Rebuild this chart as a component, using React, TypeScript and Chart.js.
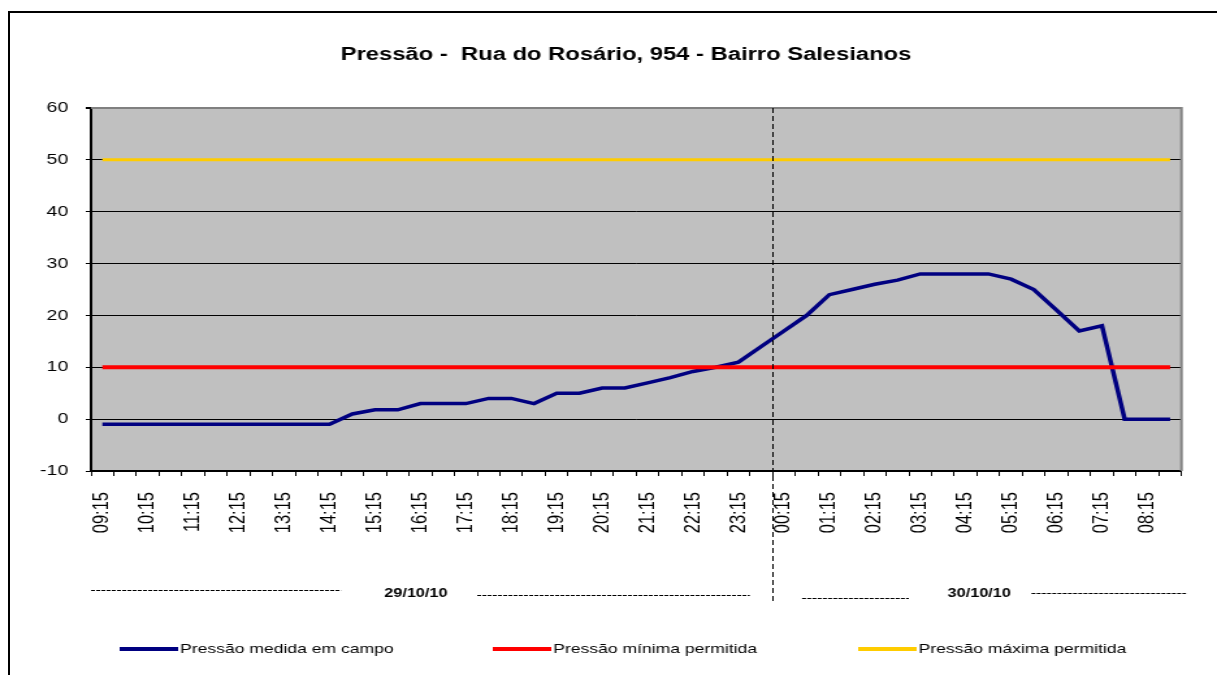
import React, { useEffect, useRef } from 'react';
import { Chart, registerables } from 'chart.js';

Chart.register(...registerables);

const chartTitle = 'Pressão -  Rua do Rosário, 954 - Bairro Salesianos';

const timeLabels = [
  '09:15', '09:45', '10:15', '10:45', '11:15', '11:45', '12:15', '12:45',
  '13:15', '13:45', '14:15', '14:45', '15:15', '15:45', '16:15', '16:45',
  '17:15', '17:45', '18:15', '18:45', '19:15', '19:45', '20:15', '20:45',
  '21:15', '21:45', '22:15', '22:45', '23:15', '23:45', '00:15', '00:45',
  '01:15', '01:45', '02:15', '02:45', '03:15', '03:45', '04:15', '04:45',
  '05:15', '05:45', '06:15', '06:45', '07:15', '07:45', '08:15', '08:45',
];

const measuredPressure = [
  -1, -1, -1, -1, -1, -1, -1, -1, -1, -1, -1, 1,
  1.8, 1.8, 3, 3, 3, 4, 4, 3, 5, 5, 6, 6,
  7, 8, 9.2, 10, 11, 14, 17, 20, 24, 25, 26, 26.8,
  28, 28, 28, 28, 27, 25, 21, 17, 18, 0, 0, 0,
];

const minPressure = [
  10, 10, 10, 10, 10, 10, 10, 10, 10, 10, 10, 10,
  10, 10, 10, 10, 10, 10, 10, 10, 10, 10, 10, 10,
  10, 10, 10, 10, 10, 10, 10, 10, 10, 10, 10, 10,
  10, 10, 10, 10, 10, 10, 10, 10, 10, 10, 10, 10,
];

const maxPressure = [
  50, 50, 50, 50, 50, 50, 50, 50, 50, 50, 50, 50,
  50, 50, 50, 50, 50, 50, 50, 50, 50, 50, 50, 50,
  50, 50, 50, 50, 50, 50, 50, 50, 50, 50, 50, 50,
  50, 50, 50, 50, 50, 50, 50, 50, 50, 50, 50, 50,
];

const seriesNames = [
  'Pressão medida em campo',
  'Pressão mínima permitida',
  'Pressão máxima permitida',
];

const seriesColors = ['#000080', '#FF0000', '#FFCC00'];

const dateLabels = ['29/10/10', '30/10/10'];

const FONT = "'Liberation Sans', Arial, sans-serif";

// layout constants (internal canvas px; canvas is stretched horizontally)
const TITLE_X = 481.5;
const TITLE_Y = 55;
const LEGEND_Y = 649;
const LEGEND_STARTS = [92, 379, 660];
const LEGEND_SWATCH = 45;

const plotBackground = {
  id: 'plotBackground',
  beforeDraw(chart: any) {
    const { ctx, chartArea } = chart;
    ctx.save();
    ctx.fillStyle = '#C0C0C0';
    ctx.fillRect(chartArea.left, chartArea.top, chartArea.right - chartArea.left, chartArea.bottom - chartArea.top);
    ctx.restore();
  },
  beforeDatasetsDraw(chart: any) {
    const { ctx, chartArea } = chart;
    ctx.save();
    ctx.strokeStyle = '#808080';
    ctx.lineWidth = 2;
    ctx.beginPath();
    ctx.moveTo(chartArea.left, chartArea.top);
    ctx.lineTo(chartArea.right, chartArea.top);
    ctx.lineTo(chartArea.right, chartArea.bottom);
    ctx.stroke();
    ctx.restore();
  },
};

const decorations = {
  id: 'decorations',
  afterDraw(chart: any) {
    const { ctx, chartArea } = chart;
    const xs = chart.scales.x;
    const px = (v: number) => xs.getPixelForValue(v);
    ctx.save();

    // title
    ctx.fillStyle = '#000';
    ctx.font = `bold 18.3px ${FONT}`;
    ctx.textAlign = 'center';
    ctx.textBaseline = 'middle';
    ctx.fillText(chartTitle, TITLE_X, TITLE_Y);

    // midnight divider
    ctx.strokeStyle = '#000';
    ctx.lineWidth = 1;
    ctx.setLineDash([5, 3]);
    ctx.beginPath();
    const mid = Math.round(px(29.5)) + 0.5;
    ctx.moveTo(mid, chartArea.top);
    ctx.lineTo(mid, 601);
    ctx.stroke();

    // dashed segments in date row
    ctx.setLineDash([3, 1]);
    const segs: [number, number, number][] = [
      [-0.5, 10.5, 590.5],
      [16.5, 28.5, 595.5],
      [30.8, 35.5, 598.5],
      [40.9, 47.7, 593.5],
    ];
    segs.forEach(([a, b, y]) => {
      ctx.beginPath();
      ctx.moveTo(px(a), y);
      ctx.lineTo(px(b), y);
      ctx.stroke();
    });
    ctx.setLineDash([]);
    ctx.font = `bold 12.5px ${FONT}`;
    ctx.fillText(dateLabels[0], px(13.8), 594);
    ctx.fillText(dateLabels[1], px(38.6), 594);

    // legend
    ctx.font = `13.5px ${FONT}`;
    ctx.textAlign = 'left';
    chart.data.datasets.forEach((ds: any, i: number) => {
      const x0 = LEGEND_STARTS[i];
      ctx.fillStyle = ds.borderColor;
      ctx.fillRect(x0, LEGEND_Y - 2, LEGEND_SWATCH, 4);
      ctx.fillStyle = '#000';
      ctx.fillText(ds.label, x0 + LEGEND_SWATCH + 1.5, LEGEND_Y);
    });

    ctx.restore();
  },
};

export default function App() {
  const ref = useRef<HTMLCanvasElement>(null);

  useEffect(() => {
    const canvas = ref.current;
    if (!canvas) return;
    Chart.defaults.font.family = FONT;
    const chart = new Chart(canvas, {
      type: 'line',
      data: {
        labels: timeLabels,
        datasets: [
          {
            label: seriesNames[0],
            data: measuredPressure,
            borderColor: seriesColors[0],
            backgroundColor: seriesColors[0],
            borderWidth: 3.5,
            pointRadius: 0,
            tension: 0,
            order: 3,
          },
          {
            label: seriesNames[1],
            data: minPressure,
            borderColor: seriesColors[1],
            backgroundColor: seriesColors[1],
            borderWidth: 4,
            pointRadius: 0,
            tension: 0,
            order: 2,
          },
          {
            label: seriesNames[2],
            data: maxPressure,
            borderColor: seriesColors[2],
            backgroundColor: seriesColors[2],
            borderWidth: 3,
            pointRadius: 0,
            tension: 0,
            order: 1,
          },
        ],
      },
      options: {
        responsive: false,
        animation: false,
        devicePixelRatio: 1,
        layout: { padding: { left: 30, right: 25, top: 108, bottom: 0 } },
        plugins: {
          title: { display: false },
          legend: { display: false },
          tooltip: { enabled: false },
        },
        scales: {
          x: {
            type: 'category',
            offset: true,
            grid: {
              display: true,
              drawOnChartArea: false,
              drawTicks: true,
              tickLength: 5,
              offset: true,
              color: '#000',
              lineWidth: 1,
            },
            border: { display: true, color: '#000', width: 2 },
            ticks: {
              autoSkip: false,
              maxRotation: 90,
              minRotation: 90,
              padding: 16,
              color: '#000',
              font: { size: 16.5, family: FONT },
              callback: (_v: any, idx: number) => (idx % 2 === 0 ? timeLabels[idx] : ''),
            },
            afterFit: (s: any) => {
              s.height = 204;
            },
          },
          y: {
            min: -10,
            max: 60,
            ticks: {
              stepSize: 10,
              color: '#000',
              padding: 13.5,
              font: { size: 15, family: FONT },
            },
            grid: {
              color: (c: any) => (c.tick && c.tick.value === 60 ? '#808080' : '#000'),
              lineWidth: (c: any) => (c.tick && c.tick.value === 60 ? 2 : 1),
              tickColor: '#000',
              tickLength: 4,
              drawTicks: true,
            },
            border: { display: true, color: '#000', width: 2 },
            afterFit: (s: any) => {
              s.width = 40;
            },
          },
        },
      },
      plugins: [plotBackground, decorations],
    } as any);
    return () => chart.destroy();
  }, []);

  return (
    <div
      style={{
        position: 'fixed',
        left: 0,
        top: 0,
        width: 1217,
        height: 675,
        overflow: 'hidden',
        background: '#fff',
      }}
    >
      <div
        style={{
          position: 'absolute',
          left: 8,
          top: 11,
          width: 1300,
          height: 800,
          borderLeft: '2px solid #000',
          borderTop: '2px solid #000',
        }}
      />
      <canvas
        ref={ref}
        width={936}
        height={675}
        style={{ position: 'absolute', left: 0, top: 0, width: '1217px', height: '675px' }}
      />
    </div>
  );
}
